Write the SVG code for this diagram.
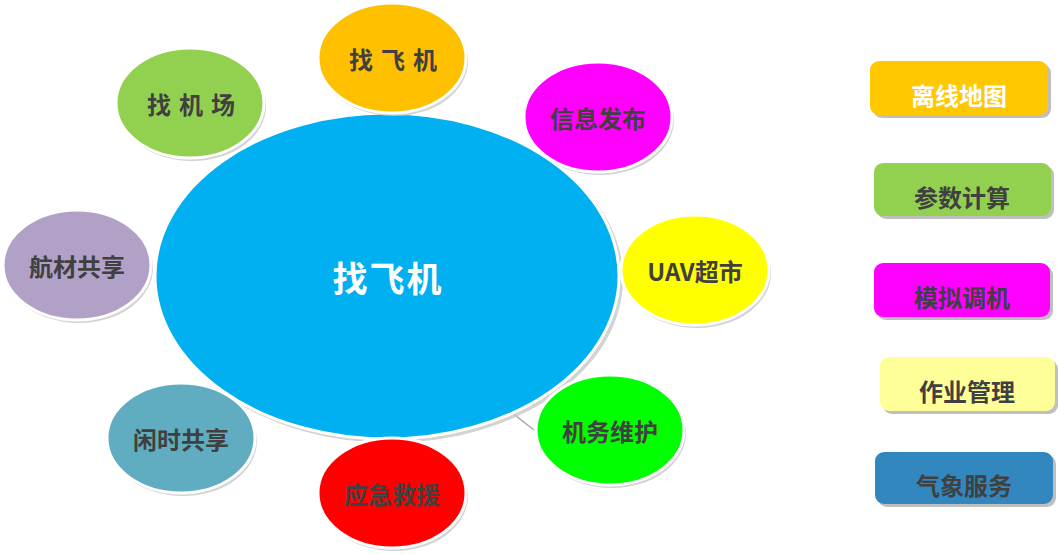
<svg xmlns="http://www.w3.org/2000/svg" width="1058" height="555" viewBox="0 0 1058 555">
<defs>
<style>
.sh{fill:#c8c8c8;opacity:0.8}
.el{stroke:#ffffff;stroke-width:3}
.lbl{font-family:"Noto Sans CJK SC","Liberation Sans",sans-serif;font-weight:bold;font-size:24px;fill:#404040;text-anchor:middle;dominant-baseline:central}
.rb{stroke:none}
.rsh{fill:#bfbfbf}
</style>
</defs>
<rect width="1058" height="555" fill="#ffffff"/>
<g id="connectors">
<line x1="511" y1="412" x2="534" y2="430" stroke="#a6a6a6" stroke-width="1.5"/>
</g>
<g id="center">
<ellipse class="sh" cx="390" cy="279" rx="233" ry="164"/>
<ellipse class="el" cx="387" cy="276" rx="232" ry="163" fill="#00b0f0"/>
<text class="lbl" x="388" y="276" style="font-size:35px;fill:#ffffff;letter-spacing:2px">找飞机</text>
</g>
<g id="n-zhaofeiji">
<ellipse class="sh" cx="394" cy="61" rx="74" ry="55"/>
<ellipse class="el" cx="392" cy="58" rx="74" ry="55" fill="#ffc000"/>
<text class="lbl" x="397" y="58" style="letter-spacing:8px">找飞机</text>
</g>
<g id="n-zhaojichang">
<ellipse class="sh" cx="192" cy="106" rx="74" ry="55"/>
<ellipse class="el" cx="190" cy="103" rx="74" ry="55" fill="#92d050"/>
<text class="lbl" x="195" y="103" style="letter-spacing:8px">找机场</text>
</g>
<g id="n-xinxi">
<ellipse class="sh" cx="600" cy="120" rx="74" ry="55"/>
<ellipse class="el" cx="598" cy="117" rx="74" ry="55" fill="#ff00ff"/>
<text class="lbl" x="598" y="117">信息发布</text>
</g>
<g id="n-uav">
<ellipse class="sh" cx="697" cy="273" rx="74" ry="55"/>
<ellipse class="el" cx="695" cy="270" rx="74" ry="55" fill="#ffff00"/>
<text class="lbl" x="695" y="270">UAV超市</text>
</g>
<g id="n-hangcai">
<ellipse class="sh" cx="79" cy="268" rx="74" ry="55"/>
<ellipse class="el" cx="77" cy="265" rx="74" ry="55" fill="#b2a1c7"/>
<text class="lbl" x="77" y="265">航材共享</text>
</g>
<g id="n-xianshi">
<ellipse class="sh" cx="183" cy="441" rx="74" ry="55"/>
<ellipse class="el" cx="181" cy="438" rx="74" ry="55" fill="#60acc0"/>
<text class="lbl" x="181" y="438">闲时共享</text>
</g>
<g id="n-yingji">
<ellipse class="sh" cx="394" cy="496" rx="74" ry="55"/>
<ellipse class="el" cx="392" cy="493" rx="74" ry="55" fill="#ff0000"/>
<text class="lbl" x="392" y="493">应急救援</text>
</g>
<g id="n-jiwu">
<ellipse class="sh" cx="612" cy="433" rx="74" ry="55"/>
<ellipse class="el" cx="610" cy="430" rx="74" ry="55" fill="#00ff00"/>
<text class="lbl" x="610" y="430">机务维护</text>
</g>
<g id="b-lixian">
<rect class="rsh" x="873" y="64" width="178" height="54" rx="9"/>
<rect class="rb" x="870" y="61" width="178" height="54" rx="9" fill="#ffc800"/>
<text class="lbl" x="959" y="94" style="fill:#ffffff">离线地图</text>
</g>
<g id="b-canshu">
<rect class="rsh" x="877" y="166" width="177" height="53" rx="9"/>
<rect class="rb" x="874" y="163" width="177" height="53" rx="9" fill="#92d050"/>
<text class="lbl" x="962" y="196">参数计算</text>
</g>
<g id="b-moni">
<rect class="rsh" x="877" y="266" width="176" height="54" rx="9"/>
<rect class="rb" x="874" y="263" width="176" height="54" rx="9" fill="#ff00ff"/>
<text class="lbl" x="962" y="296">模拟调机</text>
</g>
<g id="b-zuoye">
<rect class="rsh" x="883" y="360" width="175" height="54" rx="9"/>
<rect class="rb" x="880" y="357" width="175" height="54" rx="9" fill="#ffff99"/>
<text class="lbl" x="967" y="390">作业管理</text>
</g>
<g id="b-qixiang">
<rect class="rsh" x="878" y="455" width="178" height="52" rx="9"/>
<rect class="rb" x="875" y="452" width="178" height="52" rx="9" fill="#3187be"/>
<text class="lbl" x="964" y="484">气象服务</text>
</g>
</svg>
